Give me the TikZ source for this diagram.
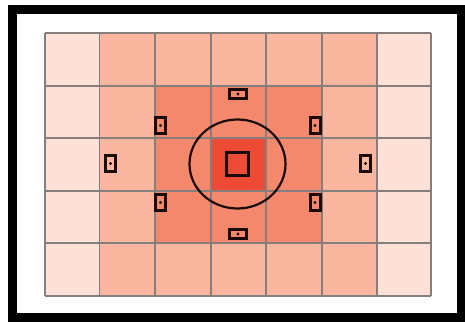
\documentclass[tikz,border=0pt]{standalone}
\definecolor{outerc}{HTML}{FDE1D6}
\definecolor{midc}{HTML}{FAB69E}
\definecolor{innerc}{HTML}{F4886C}
\definecolor{centerc}{HTML}{EE4B37}
\definecolor{gridc}{HTML}{857E7C}
\definecolor{linec}{HTML}{1A0A08}
\begin{document}
\begin{tikzpicture}[x=1pt,y=-1pt,
  afv/.style={draw=linec, line width=3pt, minimum width=10pt, minimum height=16pt, inner sep=0pt},
  afh/.style={draw=linec, line width=3pt, minimum width=17pt, minimum height=9pt, inner sep=0pt},
  afc/.style={draw=linec, line width=3pt, minimum width=22pt, minimum height=23pt, inner sep=0pt},
  gridline/.style={draw=gridc, line width=1.6pt}]
\useasboundingbox (0,0) rectangle (465,321);
\fill[white] (0,0) rectangle (465,321);
% cell colours
\fill[outerc] (45,33) rectangle (431,296);
\fill[midc] (99.5,33) rectangle (377,296);
\fill[innerc] (155,86) rectangle (322,243);
\fill[centerc] (211,138) rectangle (266,191);
% grid
\foreach \gx in {45,99.5,155,211,266,322,377,431}
  \draw[gridline] (\gx,33) -- (\gx,296);
\foreach \gy in {33,86,138,191,243,296}
  \draw[gridline] (45,\gy) -- (431,\gy);
% outer frame
\draw[black, line width=9pt] (12,10) rectangle (461.5,317);
% AF points
\node[afh] (top) at (238,94) {};
\node[afh] (bot) at (238,234) {};
\node[afv] (ul) at (160.5,125.5) {};
\node[afv] (ur) at (315,125.5) {};
\node[afv] (ll) at (160.5,202.5) {};
\node[afv] (lr) at (315,202.5) {};
\node[afv] (le) at (110.5,163.5) {};
\node[afv] (ri) at (365.5,163.5) {};
\node[afc] (ce) at (237.5,164) {};
\foreach \p in {top,bot,ul,ur,ll,lr,le,ri}
  \fill[linec] (\p.center) circle (1.6pt);
\draw[linec, line width=2.2pt] (ce.center) ellipse [x radius=48pt, y radius=44.5pt];
\end{tikzpicture}
\end{document}
